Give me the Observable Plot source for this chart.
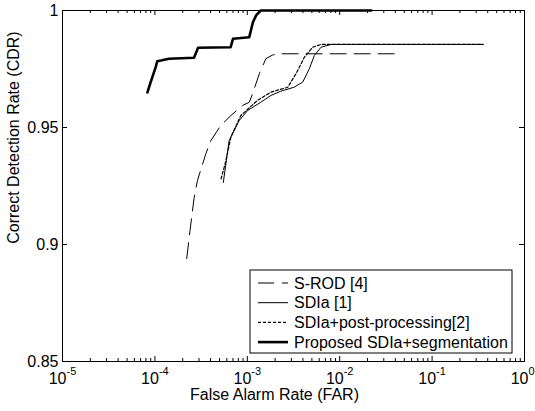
<!DOCTYPE html>
<html><head><meta charset="utf-8">
<script src="https://cdn.jsdelivr.net/npm/d3@7"></script>
<script src="https://cdn.jsdelivr.net/npm/@observablehq/plot@0.6"></script>
<style>body{margin:0;background:#fff}</style>
</head><body><div id="chart"></div>
<script>
// ---- data ----
const seriesNames = ["S-ROD [4]", "SDIa [1]", "SDIa+post-processing[2]", "Proposed SDIa+segmentation"];

const srodFAR = [2.21e-4, 2.4e-4, 2.65e-4, 2.89e-4, 3.56e-4, 4.03e-4, 5.17e-4, 6.64e-4, 8.88e-4, 1.05e-3, 1.14e-3, 1.35e-3, 1.59e-3, 1.88e-3, 2.31e-3, 0.043];
const srodCDR = [0.894, 0.906, 0.9196, 0.9274, 0.9388, 0.9444, 0.9509, 0.9551, 0.9594, 0.9608, 0.9644, 0.973, 0.9794, 0.981, 0.9815, 0.9815];

const sdiaFAR = [5.5e-4, 6.36e-4, 8.17e-4, 1.01e-3, 1.4e-3, 1.8e-3, 2.3e-3, 3.2e-3, 3.98e-3, 4.69e-3, 5.32e-3, 6.28e-3, 8.07e-3, 0.356];
const sdiaCDR = [0.9265, 0.9444, 0.953, 0.9573, 0.9608, 0.9637, 0.9655, 0.9672, 0.9694, 0.9751, 0.9808, 0.9843, 0.9855, 0.9855];

const postFAR = [5.2e-4, 5.8e-4, 6.64e-4, 8.5e-4, 1.29e-3, 1.8e-3, 2.74e-3, 3.37e-3, 4.14e-3, 5.1e-3, 6.3e-3, 0.356];
const postCDR = [0.928, 0.935, 0.9459, 0.9551, 0.9616, 0.9651, 0.9672, 0.973, 0.98, 0.9843, 0.9855, 0.9855];

const propFAR = [8.3e-5, 9.0e-5, 1.02e-4, 1.06e-4, 1.16e-4, 1.42e-4, 2.65e-4, 2.93e-4, 6.6e-4, 7.0e-4, 1.05e-3, 1.15e-3, 1.25e-3, 1.4e-3, 0.022];
const propCDR = [0.965, 0.9694, 0.9758, 0.9783, 0.9786, 0.9794, 0.9798, 0.9841, 0.9843, 0.9879, 0.9886, 0.995, 0.998, 1.0, 1.0];

const xTickValues = [1e-5, 1e-4, 1e-3, 1e-2, 1e-1, 1];
const xTickBase = ["10", "10", "10", "10", "10", "10"];
const xTickExponents = ["-5", "-4", "-3", "-2", "-1", "0"];
const yTickValues = [0.85, 0.9, 0.95, 1];
const yTickLabels = ["0.85", "0.9", "0.95", "1"];
const xTitle = "False Alarm Rate (FAR)";
const yTitle = "Correct Detection Rate (CDR)";
// anchor of the rotated y title (data units, left of the frame)
const yTitleAt = {far: 2.95e-6, cdr: 0.9457};

// ---- build ----
const styles = [
  {stroke: "#000", strokeWidth: 1, dash: "16,8"},
  {stroke: "#000", strokeWidth: 1, dash: null},
  {stroke: "#000", strokeWidth: 1.2, dash: "3,2"},
  {stroke: "#000", strokeWidth: 2.6, dash: null}
];
const zip = (xs, ys, s) => xs.map((x, i) => ({far: x, cdr: ys[i], s}));
const series = [
  zip(srodFAR, srodCDR, 0), zip(sdiaFAR, sdiaCDR, 1), zip(postFAR, postCDR, 2), zip(propFAR, propCDR, 3)
];

const W = 535, H = 411, mL = 62, mR = 11, mT = 10, mB = 50;
const fw = W - mL - mR, fh = H - mT - mB;
const minorX = [];
for (let e = -5; e < 0; e++) for (let k = 2; k <= 9; k++) minorX.push(k * Math.pow(10, e));

const lineMarks = series.map((data, i) => Plot.line(data, {
  x: "far", y: "cdr", stroke: styles[i].stroke, strokeWidth: styles[i].strokeWidth,
  strokeDasharray: styles[i].dash, strokeLinejoin: "round"
}));

const chart = Plot.plot({
  width: W, height: H,
  marginLeft: mL, marginRight: mR, marginTop: mT, marginBottom: mB,
  style: {fontFamily: "'Liberation Sans', Arial, sans-serif", fontSize: "16px", background: "#fff", color: "#000"},
  x: {type: "log", domain: [1e-5, 1], axis: null},
  y: {domain: [0.85, 1], axis: null},
  marks: [
    ...lineMarks,
    // inward ticks (bottom/top, major & minor)
    Plot.ruleX(xTickValues, {x: d => d, insetTop: fh - 5, stroke: "#000"}),
    Plot.ruleX(xTickValues, {x: d => d, insetBottom: fh - 5, stroke: "#000"}),
    Plot.ruleX(minorX, {x: d => d, insetTop: fh - 3, stroke: "#000"}),
    Plot.ruleX(minorX, {x: d => d, insetBottom: fh - 3, stroke: "#000"}),
    Plot.ruleY(yTickValues, {y: d => d, insetRight: fw - 5, stroke: "#000"}),
    Plot.ruleY(yTickValues, {y: d => d, insetLeft: fw - 5, stroke: "#000"}),
    Plot.frame({stroke: "#000"}),
    // tick labels
    Plot.axisY({ticks: yTickValues, tickSize: 0, tickPadding: 4, label: null,
      tickFormat: d => yTickLabels[yTickValues.indexOf(d)]}),
    Plot.text(xTickValues, {x: d => d, y: () => 0.85, text: (d, i) => xTickBase[i],
      textAnchor: "end", lineAnchor: "bottom", dx: 4, dy: 22, fontSize: 16}),
    Plot.text(xTickValues, {x: d => d, y: () => 0.85, text: (d, i) => xTickExponents[i],
      textAnchor: "start", lineAnchor: "bottom", dx: 4, dy: 13, fontSize: 11}),
    // axis titles
    Plot.text([xTitle], {frameAnchor: "bottom", text: d => d, lineAnchor: "bottom", dx: -19, dy: 38, fontSize: 16}),
    Plot.text([yTitle], {x: () => yTitleAt.far, y: () => yTitleAt.cdr, text: d => d, rotate: -90, fontSize: 16})
  ]
});

// ---- inset legend ----
const svg = d3.select(chart);
const lg = svg.append("g").attr("font-family", "'Liberation Sans', Arial, sans-serif")
  .attr("font-size", 16).attr("text-anchor", "start");
const lx = 250, ly = 270, lw = 262, lh = 83;
lg.append("rect").attr("x", lx).attr("y", ly).attr("width", lw).attr("height", lh)
  .attr("fill", "#fff").attr("stroke", "#000");
seriesNames.forEach((name, i) => {
  const cy = ly + 13 + i * 19.7;
  lg.append("line").attr("x1", lx + 8).attr("x2", lx + 38).attr("y1", cy).attr("y2", cy)
    .attr("stroke", styles[i].stroke).attr("stroke-width", styles[i].strokeWidth)
    .attr("stroke-dasharray", styles[i].dash || null);
  lg.append("text").attr("x", lx + 44).attr("y", cy).attr("dy", "0.35em")
    .attr("text-anchor", "start").attr("fill", "#000").text(name);
});

document.getElementById("chart").appendChild(chart);
</script>
</body></html>
